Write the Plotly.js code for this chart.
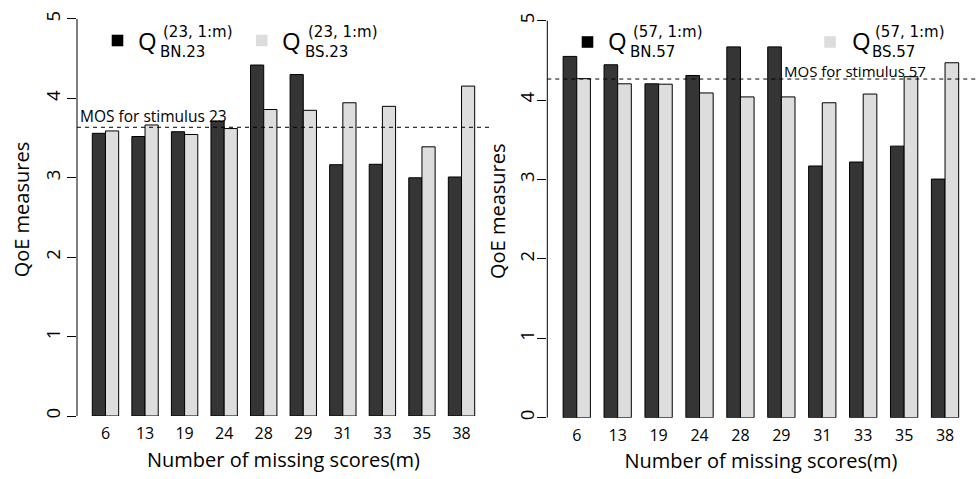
<!DOCTYPE html>
<html>
<head>
<meta charset="utf-8">
<script src="https://cdn.plot.ly/plotly-3.0.1.min.js"></script>
<style>
  html, body { margin: 0; padding: 0; background: #ffffff; }
  #chart { width: 976px; height: 479px; }
</style>
</head>
<body>
<div id="chart"></div>
<script>
// Number of missing scores (m) — shared categories of both panels
const missingScores = ['6', '13', '19', '24', '28', '29', '31', '33', '35', '38'];

// Stimulus 23
const qBN23 = [3.56, 3.52, 3.58, 3.715, 4.42, 4.30, 3.165, 3.17, 3.00, 3.01];
const qBS23 = [3.59, 3.665, 3.545, 3.62, 3.86, 3.85, 3.945, 3.90, 3.39, 4.155];
const mos23 = 3.636;

// Stimulus 57
const qBN57 = [4.55, 4.445, 4.205, 4.31, 4.67, 4.67, 3.17, 3.22, 3.42, 3.005];
const qBS57 = [4.27, 4.205, 4.20, 4.09, 4.04, 4.04, 3.966, 4.076, 4.295, 4.47];
const mos57 = 4.265;

const yTicks = [0, 1, 2, 3, 4, 5];

const W = 976, H = 479;
const px = v => v / W;
const py = v => 1 - v / H;

const DARK = '#353535';
const LIGHT = '#dcdddc';
const FONT = '"Open Sans", "Noto Sans", sans-serif';
const SCRIPT_FONT = '"DejaVu Sans", sans-serif';

function barTrace(y, color, xa, ya) {
  return {
    type: 'bar', x: missingScores, y: y, xaxis: xa, yaxis: ya,
    marker: { color: color, line: { color: '#000000', width: 1 } },
    hoverinfo: 'x+y', showlegend: false
  };
}

const data = [
  barTrace(qBN23, DARK, 'x', 'y'),
  barTrace(qBS23, LIGHT, 'x', 'y'),
  barTrace(qBN57, DARK, 'x2', 'y2'),
  barTrace(qBS57, LIGHT, 'x2', 'y2')
];

function xAxis(domain, anchor) {
  return {
    domain: domain, anchor: anchor, type: 'category',
    range: [-0.72, 9.72], showline: false, showgrid: false, zeroline: false,
    ticks: '', ticklabelstandoff: 6,
    tickfont: { family: FONT, size: 16, color: '#000000' },
    title: { text: 'Number of missing scores(m)', font: { family: FONT, size: 20, color: '#000000' }, standoff: 9 },
    automargin: false
  };
}
function yAxis(domain, anchor, labelStandoff, titleStandoff) {
  return {
    domain: domain, anchor: anchor, range: [0, 5.2],
    tickvals: yTicks, ticktext: yTicks.map(String),
    ticks: 'outside', ticklen: 9, tickwidth: 1, tickcolor: '#000000',
    tickangle: -90, ticklabelstandoff: labelStandoff,
    tickfont: { family: FONT, size: 18.5, color: '#000000' },
    showline: false, showgrid: false, zeroline: false,
    title: { text: 'QoE measures', font: { family: FONT, size: 20, color: '#000000' }, standoff: titleStandoff },
    automargin: false
  };
}

const shapes = [];
const annotations = [];

// y axis lines span 0..5 only
[['x', 'y'], ['x2', 'y2']].forEach(([xa, ya]) => {
  shapes.push({ type: 'line', xref: xa + ' domain', yref: ya, x0: 0, x1: 0, y0: 0, y1: 5,
    line: { color: '#000000', width: 1 } });
});

// MOS reference lines
shapes.push({ type: 'line', xref: 'x domain', yref: 'y', x0: 0, x1: 1, y0: mos23, y1: mos23,
  line: { color: '#000000', width: 1, dash: '4px,4px' } });
shapes.push({ type: 'line', xref: 'x2 domain', yref: 'y2', x0: 0, x1: 1.004, y0: mos57, y1: mos57,
  line: { color: '#000000', width: 1, dash: '4px,4px' } });

annotations.push({ xref: 'paper', yref: 'paper', x: px(78), y: py(116), xanchor: 'left', yanchor: 'middle',
  text: 'MOS for stimulus 23', showarrow: false, font: { family: FONT, size: 15.5, color: '#000000' } });
annotations.push({ xref: 'paper', yref: 'paper', x: px(782), y: py(71), xanchor: 'left', yanchor: 'middle',
  text: 'MOS for stimulus 57', showarrow: false, font: { family: FONT, size: 15, color: '#000000' } });

// Legend entries: square key + Q with stacked superscript / subscript
function legendEntry(sqX, sqY, color, qX, sup, supX, sub, subX) {
  shapes.push({ type: 'rect', xref: 'paper', yref: 'paper',
    x0: px(sqX - 5.8), x1: px(sqX + 5.8), y0: py(sqY + 5.8), y1: py(sqY - 5.8),
    fillcolor: color, line: { width: 0 } });
  annotations.push({ xref: 'paper', yref: 'paper', x: px(qX), y: py(41), xanchor: 'left', yanchor: 'middle',
    text: 'Q', showarrow: false, font: { family: FONT, size: 24, color: '#000000' } });
  annotations.push({ xref: 'paper', yref: 'paper', x: px(supX), y: py(32), xanchor: 'left', yanchor: 'middle',
    text: sup, showarrow: false, font: { family: SCRIPT_FONT, size: 15, color: '#000000' } });
  annotations.push({ xref: 'paper', yref: 'paper', x: px(subX), y: py(52), xanchor: 'left', yanchor: 'middle',
    text: sub, showarrow: false, font: { family: SCRIPT_FONT, size: 15, color: '#000000' } });
}
legendEntry(117.5, 40.5, '#000000', 136, '(23, 1:m)', 161, 'BN.23', 158);
legendEntry(261.7, 40.5, LIGHT, 279.5, '(23, 1:m)', 306, 'BS.23', 303);
legendEntry(587.5, 42, '#000000', 606, '(57, 1:m)', 631, 'BN.57', 628);
legendEntry(830, 42, LIGHT, 849.5, '(57, 1:m)', 873, 'BS.57', 870);

const layout = {
  width: W, height: H,
  margin: { l: 0, r: 0, t: 0, b: 0 },
  font: { family: FONT, color: '#000000' },
  paper_bgcolor: '#ffffff', plot_bgcolor: '#ffffff',
  barmode: 'group', bargap: 1 / 3, bargroupgap: 0,
  showlegend: false,
  xaxis: xAxis([px(77), px(490)], 'y'),
  yaxis: yAxis([1 - 416 / H, 1 - 3.1 / H], 'x', 0, 4),
  xaxis2: xAxis([px(547.3), px(974.5)], 'y2'),
  yaxis2: yAxis([1 - 417.7 / H, 1 - 4.8 / H], 'x2', -4, 2),
  shapes: shapes,
  annotations: annotations
};

Plotly.newPlot('chart', data, layout, { displayModeBar: false, staticPlot: true });
</script>
</body>
</html>
